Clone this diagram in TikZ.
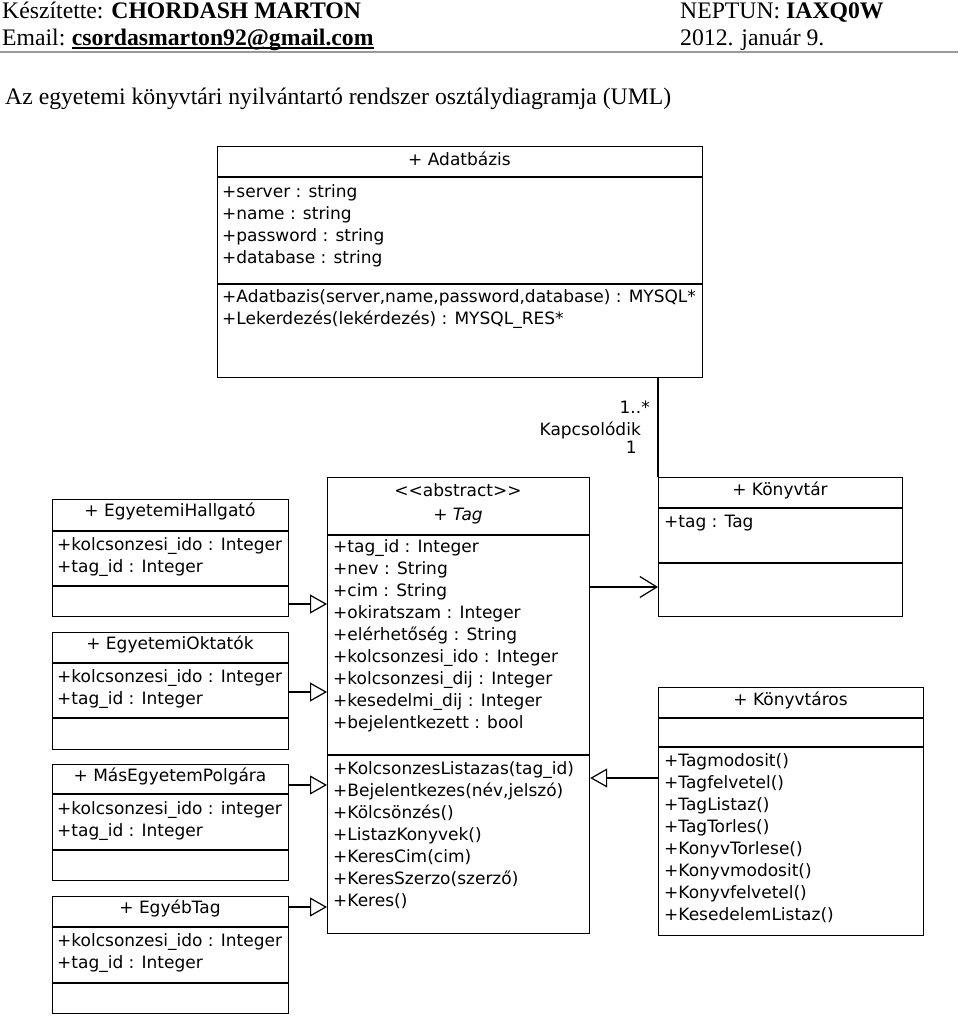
\documentclass[tikz,border=0pt]{standalone}
\usepackage{fontspec}
\setmainfont{Liberation Serif}
\newfontfamily\dv{DejaVu Sans}
\usetikzlibrary{arrows.meta}

\tikzset{
  umlbox/.style={draw=black, line width=1.2pt, inner sep=0pt, anchor=north west, fill=white},
  member/.style={anchor=base west, inner sep=0pt, font=\dv\fontsize{17}{20}\selectfont},
  ctitle/.style={anchor=base, inner sep=0pt, font=\dv\fontsize{17}{20}\selectfont},
  lbl/.style={anchor=base east, inner sep=0pt, font=\dv\fontsize{17}{20}\selectfont},
  sepline/.style={line width=1.2pt},
  gen/.style={line width=1.2pt, -{Triangle[open, length=17pt, width=19pt, line width=1.2pt]}},
  nav/.style={line width=1.2pt, -{Straight Barb[length=17pt, width=21pt, line width=1.2pt]}},
  assoc/.style={line width=1.2pt},
  hdr/.style={anchor=base west, inner sep=0pt, font=\fontsize{23.7}{28}\selectfont},
  rulel/.style={draw=black!40, line width=1.5pt},
}

\newcommand\memlines[4]{%
  \foreach \mt [count=\mi] in {#4}{%
    \node[member] (#1-\mi) at (#2,{#3+22*(\mi-1)}) {\mt};}}

\begin{document}
\begin{tikzpicture}[x=1pt,y=-1pt]
\useasboundingbox[fill=white] (0,0) rectangle (960,1017);

% header
\node[hdr] (author) at (2,18) {Készítette: \textbf{CHORDASH MARTON}};
\node[hdr] (email) at (2,45) {Email:};
\node[hdr] (addr) at ([xshift=6pt]email.base east) {\textbf{csordasmarton92@gmail.com}};
\draw[line width=1.4pt] ([yshift=-3pt]addr.base west) -- ([yshift=-3pt]addr.base east);
\node[hdr] (neptun) at (680,18) {NEPTUN: \textbf{IAXQ0W}};
\node[hdr] (date) at (680,45) {2012. január 9.};
\draw[rulel] (0,52) -- (958,52);
\node[hdr] (title) at (5,104) {Az egyetemi könyvtári nyilvántartó rendszer osztálydiagramja (UML)};

% Adatbázis
\node[umlbox, minimum width=485pt, minimum height=231pt] (adat) at (217,146) {};
\node[ctitle] (adat-t) at (459.5,165) {+ Adatbázis};
\draw[sepline] (adat.west |- 0,177) -- (adat.east |- 0,177);
\draw[sepline] (adat.west |- 0,284) -- (adat.east |- 0,284);
\memlines{adata}{222}{197}{+server : string,+name : string,+password : string,+database : string}
\memlines{adatm}{222}{302}{{+Adatbazis(server,name,password,database) : MYSQL*},+Lekerdezés(lekérdezés) : MYSQL\_RES*}

% Könyvtár
\node[umlbox, minimum width=244pt, minimum height=139pt] (konyvtar) at (658,477) {};
\node[ctitle] (konyvtar-t) at (780,495) {+ Könyvtár};
\draw[sepline] (konyvtar.west |- 0,508) -- (konyvtar.east |- 0,508);
\draw[sepline] (konyvtar.west |- 0,563) -- (konyvtar.east |- 0,563);
\memlines{konyvtara}{664}{527}{+tag : Tag}

% association
\draw[assoc] (adat.south -| 658,0) -- (konyvtar.north -| 658,0);
\node[lbl] (mult1) at (650,413) {1..*};
\node[lbl] (assocname) at (641,435) {Kapcsolódik};
\node[lbl] (mult2) at (637,453) {1};

% Tag
\node[umlbox, minimum width=262pt, minimum height=456pt] (tag) at (327,477) {};
\node[ctitle] (tag-s) at (458,496) {<<abstract>>};
\node[ctitle] (tag-t) at (458,520) {+ \textit{Tag}};
\draw[sepline] (tag.west |- 0,535) -- (tag.east |- 0,535);
\draw[sepline] (tag.west |- 0,755) -- (tag.east |- 0,755);
\memlines{taga}{333}{552}{+tag\_id : Integer,+nev : String,+cim : String,+okiratszam : Integer,+elérhetőség : String,+kolcsonzesi\_ido : Integer,+kolcsonzesi\_dij : Integer,+kesedelmi\_dij : Integer,+bejelentkezett : bool}
\memlines{tagm}{333}{774}{+KolcsonzesListazas(tag\_id),{+Bejelentkezes(név,jelszó)},+Kölcsönzés(),+ListazKonyvek(),+KeresCim(cim),+KeresSzerzo(szerző),+Keres()}

% left classes
\node[umlbox, minimum width=236pt, minimum height=117pt] (hall) at (52,499) {};
\node[ctitle] (hall-t) at (170,516) {+ EgyetemiHallgató};
\draw[sepline] (hall.west |- 0,531) -- (hall.east |- 0,531);
\draw[sepline] (hall.west |- 0,586) -- (hall.east |- 0,586);
\memlines{halla}{57}{550}{+kolcsonzesi\_ido : Integer,+tag\_id : Integer}

\node[umlbox, minimum width=236pt, minimum height=117pt] (okt) at (52,632) {};
\node[ctitle] (okt-t) at (170,649) {+ EgyetemiOktatók};
\draw[sepline] (okt.west |- 0,663) -- (okt.east |- 0,663);
\draw[sepline] (okt.west |- 0,718) -- (okt.east |- 0,718);
\memlines{okta}{57}{682}{+kolcsonzesi\_ido : Integer,+tag\_id : Integer}

\node[umlbox, minimum width=236pt, minimum height=116pt] (mas) at (52,764) {};
\node[ctitle] (mas-t) at (170,781) {+ MásEgyetemPolgára};
\draw[sepline] (mas.west |- 0,794) -- (mas.east |- 0,794);
\draw[sepline] (mas.west |- 0,850) -- (mas.east |- 0,850);
\memlines{masa}{57}{814}{+kolcsonzesi\_ido : integer,+tag\_id : Integer}

\node[umlbox, minimum width=236pt, minimum height=117pt] (egyeb) at (52,896) {};
\node[ctitle] (egyeb-t) at (170,913) {+ EgyébTag};
\draw[sepline] (egyeb.west |- 0,927) -- (egyeb.east |- 0,927);
\draw[sepline] (egyeb.west |- 0,983) -- (egyeb.east |- 0,983);
\memlines{egyeba}{57}{946}{+kolcsonzesi\_ido : Integer,+tag\_id : Integer}

% Könyvtáros
\node[umlbox, minimum width=265pt, minimum height=248pt] (kt) at (658,687) {};
\node[ctitle] (kt-t) at (790.5,705) {+ Könyvtáros};
\draw[sepline] (kt.west |- 0,718) -- (kt.east |- 0,718);
\draw[sepline] (kt.west |- 0,747) -- (kt.east |- 0,747);
\memlines{ktm}{664}{766}{+Tagmodosit(),+Tagfelvetel(),+TagListaz(),+TagTorles(),+KonyvTorlese(),+Konyvmodosit(),+Konyvfelvetel(),+KesedelemListaz()}

% connectors
\draw[gen] (hall.east |- 0,604) -- (tag.west |- 0,604);
\draw[gen] (okt.east |- 0,692) -- (tag.west |- 0,692);
\draw[gen] (mas.east |- 0,785) -- (tag.west |- 0,785);
\draw[gen] (egyeb.east |- 0,907) -- (tag.west |- 0,907);
\draw[nav] (tag.east |- 0,587) -- (konyvtar.west |- 0,587);
\draw[gen] (kt.west |- 0,778) -- (tag.east |- 0,778);
\end{tikzpicture}
\end{document}
